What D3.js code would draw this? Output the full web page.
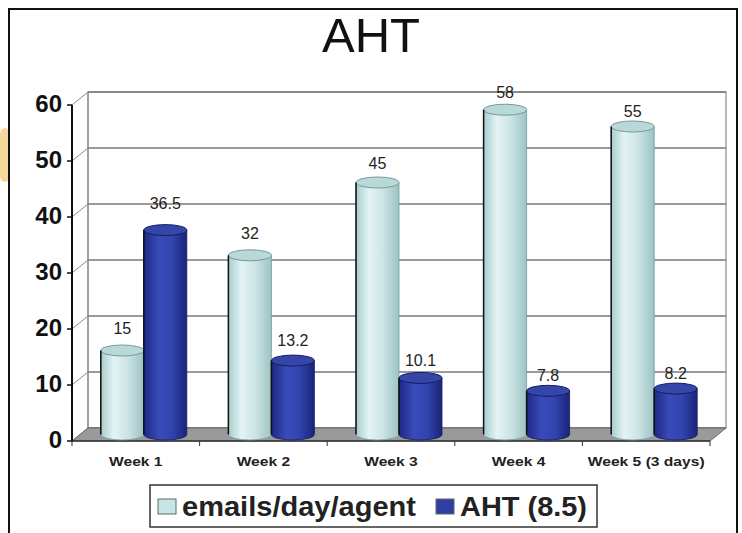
<!DOCTYPE html>
<html>
<head>
<meta charset="utf-8">
<script src="https://cdn.jsdelivr.net/npm/d3@7"></script>
<style>
  html, body { margin: 0; padding: 0; background: #fff; }
  svg { display: block; }
</style>
</head>
<body>
<svg id="chart" width="742" height="533"></svg>
<script>
// ---- data ----
const categories = ["Week 1", "Week 2", "Week 3", "Week 4", "Week 5 (3 days)"];
const seriesNames = ["emails/day/agent", "AHT (8.5)"];
const emailsValues = [15, 32, 45, 58, 55];
const ahtValues = [36.5, 13.2, 10.1, 7.8, 8.2];
const yTicks = [0, 10, 20, 30, 40, 50, 60];
const titleText = "AHT";

const seriesValues = [emailsValues, ahtValues];

// ---- layout ----
const svg = d3.select("#chart");
const dx = 16, dy = -13;           // 3D depth offset
const x = d3.scaleBand().domain(categories).range([72, 710]);
const y = d3.scaleLinear().domain([0, 60]).range([441, 105]);
const barW = 43;
const xs = d3.scaleBand().domain(seriesNames).range([0, barW * 2]);

// outer frame
svg.append("rect").attr("x", 0).attr("y", 128).attr("width", 10).attr("height", 54)
  .attr("rx", 6).attr("fill", "#f6d89a");
svg.append("path").attr("d", "M9,533 L9,9 L737,9 L737,533")
  .attr("fill", "none").attr("stroke", "#111").attr("stroke-width", 2);

// title
svg.append("text").attr("x", 371).attr("y", 52).attr("text-anchor", "middle")
  .attr("font-family", "Liberation Sans, Arial, sans-serif").attr("font-size", 49)
  .attr("fill", "#111").text(titleText);

const [x0, x1] = x.range();
// back wall
svg.append("rect").attr("x", x0 + dx).attr("y", y(60) + dy)
  .attr("width", x1 - x0).attr("height", y(0) - y(60))
  .attr("fill", "#fff").attr("stroke", "#8a8a8a").attr("stroke-width", 1.2);

// gridlines + left wall diagonals
yTicks.forEach(t => {
  svg.append("line").attr("x1", x0 + dx).attr("x2", x1 + dx)
    .attr("y1", y(t) + dy).attr("y2", y(t) + dy)
    .attr("stroke", "#7a7a7a").attr("stroke-width", 1.3);
  svg.append("line").attr("x1", x0).attr("x2", x0 + dx)
    .attr("y1", y(t)).attr("y2", y(t) + dy)
    .attr("stroke", "#8a8a8a").attr("stroke-width", 1);
});
svg.append("line").attr("x1", x0 + dx).attr("x2", x0 + dx)
  .attr("y1", y(60) + dy).attr("y2", y(0) + dy).attr("stroke", "#8a8a8a");

// floor
svg.append("path")
  .attr("d", `M${x0},${y(0)} L${x1},${y(0)} L${x1 + dx},${y(0) + dy} L${x0 + dx},${y(0) + dy} Z`)
  .attr("fill", "#9a9a9a").attr("stroke", "#6a6a6a").attr("stroke-width", 1);
svg.append("line").attr("x1", x0).attr("x2", x1).attr("y1", y(0)).attr("y2", y(0))
  .attr("stroke", "#333").attr("stroke-width", 1.5);
categories.forEach(c => {
  const xx = x(c);
  svg.append("line").attr("x1", xx).attr("x2", xx).attr("y1", y(0)).attr("y2", y(0) + 5)
    .attr("stroke", "#333");
});
svg.append("line").attr("x1", x1).attr("x2", x1).attr("y1", y(0)).attr("y2", y(0) + 5)
  .attr("stroke", "#333");

// y axis
svg.append("line").attr("x1", x0).attr("x2", x0).attr("y1", y(60)).attr("y2", y(0))
  .attr("stroke", "#111").attr("stroke-width", 2);
yTicks.forEach(t => {
  svg.append("line").attr("x1", x0 - 5).attr("x2", x0).attr("y1", y(t)).attr("y2", y(t))
    .attr("stroke", "#111").attr("stroke-width", 1.5);
  svg.append("text").attr("x", 62).attr("y", y(t) + 7).attr("text-anchor", "end")
    .attr("font-family", "Liberation Sans, Arial, sans-serif").attr("font-weight", "bold")
    .attr("font-size", 24).attr("fill", "#111").text(t);
});

// gradients
const defs = svg.append("defs");
function grad(id, stops) {
  const g = defs.append("linearGradient").attr("id", id)
    .attr("x1", "0%").attr("x2", "100%").attr("y1", "0%").attr("y2", "0%");
  stops.forEach(s => g.append("stop").attr("offset", s[0]).attr("stop-color", s[1]));
}
grad("gEm", [["0%", "#a9cccc"], ["30%", "#e3f3f3"], ["60%", "#cfe6e6"], ["100%", "#9dc3c3"]]);
grad("gAh", [["0%", "#1c2883"], ["35%", "#3a4bb8"], ["65%", "#3244ad"], ["100%", "#1a2578"]]);
const bodyFill = ["url(#gEm)", "url(#gAh)"];
const topFill = ["#b9d9d9", "#3545a8"];
const edge = ["#6f9c9c", "#141d66"];
const labelOffset = [[17, 16, 14, 12, 10], [21, 15, 12, 10, 10]];

const ry = 5.5, rx = barW / 2;
seriesNames.forEach((s, j) => {
  categories.forEach((c, i) => {
    const v = seriesValues[j][i];
    const left = x(c) + (x.bandwidth() - barW * 2) / 2 + xs(s) + dx / 2;
    const right = left + barW;
    const cx = (left + right) / 2;
    const top = y(v) + dy / 2;
    const bot = y(0) + dy / 2;
    svg.append("path")
      .attr("d", `M${left},${top} L${left},${bot} A${rx},${ry} 0 0 0 ${right},${bot} L${right},${top} Z`)
      .attr("fill", bodyFill[j]).attr("stroke", edge[j]).attr("stroke-width", 0.8);
    svg.append("ellipse").attr("cx", cx).attr("cy", top).attr("rx", rx).attr("ry", ry)
      .attr("fill", topFill[j]).attr("stroke", edge[j]).attr("stroke-width", 1);
    svg.append("line").attr("x1", left).attr("x2", left).attr("y1", top).attr("y2", bot)
      .attr("stroke", "#111").attr("stroke-width", 1.5);
    svg.append("text").attr("x", cx).attr("y", top - labelOffset[j][i])
      .attr("text-anchor", "middle").attr("font-family", "Liberation Sans, Arial, sans-serif")
      .attr("font-size", 16).attr("fill", "#222").text(v);
  });
});

// category labels (wide, heavy lettering as in the reference)
categories.forEach(c => {
  const t = svg.append("text").attr("x", x(c) + x.bandwidth() / 2).attr("y", 466)
    .attr("text-anchor", "middle").attr("font-family", "Liberation Sans, Arial, sans-serif")
    .attr("font-weight", "bold").attr("font-size", 13).attr("fill", "#222").text(c);
  const w = t.node().getComputedTextLength();
  t.attr("textLength", w * 1.2).attr("lengthAdjust", "spacingAndGlyphs");
});

// legend
svg.append("rect").attr("x", 150).attr("y", 485).attr("width", 447).attr("height", 42)
  .attr("fill", "#fff").attr("stroke", "#333").attr("stroke-width", 1.5);
const legX = [158, 436];
const legTextX = [182, 460];
const legLen = [234, 127];
const swatch = ["#c6e4e4", "#2e3ea3"];
seriesNames.forEach((s, j) => {
  svg.append("rect").attr("x", legX[j]).attr("y", 499).attr("width", 18).attr("height", 15)
    .attr("fill", swatch[j]).attr("stroke", "#666").attr("stroke-width", 1);
  svg.append("text").attr("x", legTextX[j]).attr("y", 516)
    .attr("font-family", "Liberation Sans, Arial, sans-serif").attr("font-weight", "bold")
    .attr("font-size", 27).attr("fill", "#222")
    .attr("textLength", legLen[j]).attr("lengthAdjust", "spacingAndGlyphs").text(s);
});
</script>
</body>
</html>
